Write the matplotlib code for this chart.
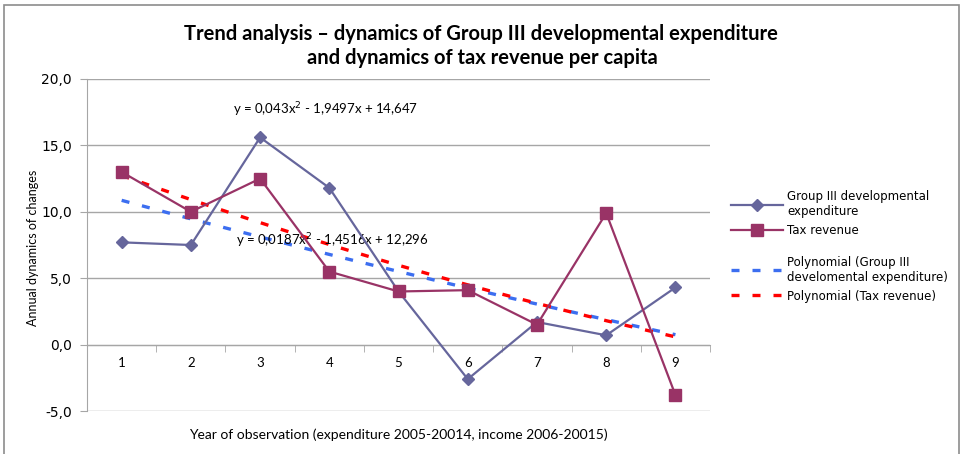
import numpy as np
import matplotlib
matplotlib.use("Agg")
import matplotlib.pyplot as plt
from matplotlib.patches import Rectangle

years = [1, 2, 3, 4, 5, 6, 7, 8, 9]
group3 = [7.7, 7.5, 15.6, 11.8, 4.0, -2.6, 1.7, 0.7, 4.3]
tax = [13.0, 10.0, 12.5, 5.5, 4.0, 4.1, 1.5, 9.9, -3.8]

# trendline coefficients
tax_poly = [0.043, -1.9497, 14.647]
group3_poly = [0.0187, -1.4516, 12.296]

c_g3 = "#66669C"
c_tax = "#993366"
c_g3_trend = "#3C6EF0"
c_tax_trend = "#FF0000"
grid_c = "#A6A6A6"

fig = plt.figure(figsize=(9.65, 4.54), dpi=100)
fig.patches.append(Rectangle((0.004, -0.01), 0.99, 1.0, transform=fig.transFigure,
                             fill=False, edgecolor="#8C8C8C", linewidth=1.2))
ax = fig.add_axes([0.0902, 0.0947, 0.6456, 0.7313])

xs = np.linspace(1, 9, 200)
t1, = ax.plot(xs, np.polyval(group3_poly, xs), color=c_g3_trend, lw=2.4,
              dashes=(2.4, 3.9), dash_capstyle="butt", zorder=3)
t2, = ax.plot(xs, np.polyval(tax_poly, xs), color=c_tax_trend, lw=2.4,
              dashes=(2.4, 3.9), dash_capstyle="butt", zorder=3)
l1, = ax.plot(years, group3, color=c_g3, lw=1.6, marker="D", ms=6.5, zorder=4)
l2, = ax.plot(years, tax, color=c_tax, lw=1.6, marker="s", ms=8, zorder=4)

ax.set_xlim(0.5, 9.5)
ax.set_ylim(-5, 20)
ax.set_yticks([-5, 0, 5, 10, 15, 20])
ax.set_yticklabels([f"{v:.1f}".replace(".", ",") for v in [-5, 0, 5, 10, 15, 20]],
                   fontsize=10, family="DejaVu Sans")
ax.yaxis.grid(True, color=grid_c, lw=1)
ax.set_axisbelow(True)
ax.tick_params(axis="y", direction="out", length=5, color=grid_c, pad=6)

for s in ["top", "right"]:
    ax.spines[s].set_visible(False)
ax.spines["left"].set_color(grid_c)
ax.spines["bottom"].set_position(("data", 0))
ax.spines["bottom"].set_color(grid_c)

ax.set_xticks(years)
ax.set_xticklabels([str(y) for y in years], fontsize=9.5, family="Lato")
ax.set_xticks(np.arange(0.5, 10, 1), minor=True)
ax.tick_params(axis="x", which="major", length=0, pad=9)
ax.tick_params(axis="x", which="minor", length=5, color=grid_c, direction="out")

ax.text(2.61, 17.7, "y = 0,043x$^2$ - 1,9497x + 14,647", fontsize=9.5,
        family="Lato", va="center", ha="left")
ax.text(2.65, 7.85, "y = 0,0187x$^2$ - 1,4516x + 12,296", fontsize=9.5,
        family="Lato", va="center", ha="left")

fig.text(0.498, 0.926, "Trend analysis \u2013 dynamics of Group III developmental expenditure",
         ha="center", va="center", fontsize=14.5, fontweight="bold", family="Lato")
fig.text(0.5, 0.872, "and dynamics of tax revenue per capita",
         ha="center", va="center", fontsize=14.5, fontweight="bold", family="Lato")
fig.text(0.4125, 0.042, "Year of observation (expenditure 2005-20014, income 2006-20015)",
         ha="center", va="center", fontsize=10, family="Lato")
fig.text(0.034, 0.455, "Annual dynamics of changes", rotation=90,
         ha="center", va="center", fontsize=9, family="Lato")

leg_kw = dict(loc="upper left", frameon=False, handlelength=4.4, handletextpad=0.3,
              labelspacing=0.5, borderaxespad=0, borderpad=0,
              prop={"family": "DejaVu Sans", "size": 8.5})
leg1 = fig.legend([l1, l2], ["Group III developmental\nexpenditure", "Tax revenue"],
                  bbox_to_anchor=(0.758, 0.581), **leg_kw)
leg2 = fig.legend([t1, t2], ["Polynomial (Group III\ndevelomental expenditure)",
                             "Polynomial (Tax revenue)"],
                  bbox_to_anchor=(0.758, 0.437), **leg_kw)

fig.savefig("out.png", dpi=100)
